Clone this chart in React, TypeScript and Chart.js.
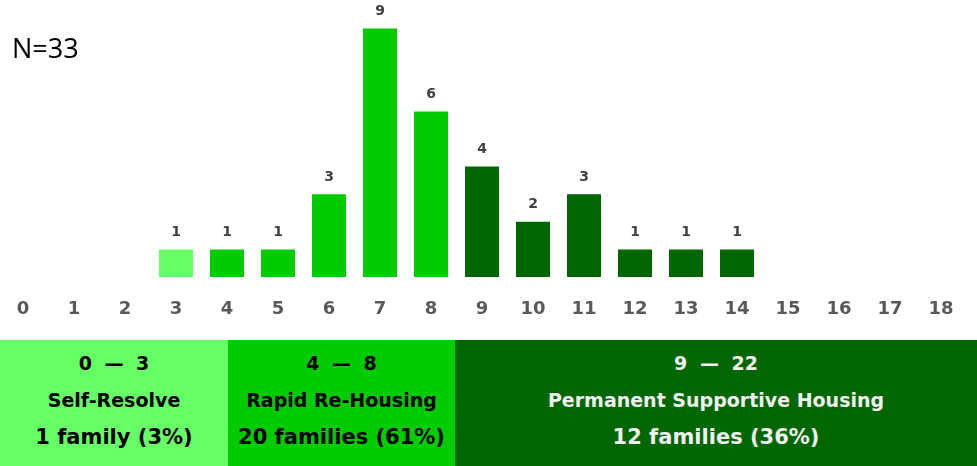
import React, { useEffect, useRef } from "react";
import { Chart, registerables } from "chart.js";

Chart.register(...registerables);

// ---- data ----
const categories = ["0", "1", "2", "3", "4", "5", "6", "7", "8", "9", "10", "11", "12", "13", "14", "15", "16", "17", "18"];
const counts = [0, 0, 0, 1, 1, 1, 3, 9, 6, 4, 2, 3, 1, 1, 1, 0, 0, 0, 0];
const sampleLabel = "N=33";

const groupMax = [3, 8, 22];
const groupRanges = ["0 — 3", "4 — 8", "9 — 22"];
const groupNames = ["Self-Resolve", "Rapid Re-Housing", "Permanent Supportive Housing"];
const groupFamilies = ["1 family (3%)", "20 families (61%)", "12 families (36%)"];
const groupColors = ["#66FF66", "#00CC00", "#006600"];
const groupTextColors = ["#000000", "#000000", "#F2F2F2"];

const FONT = "'DejaVu Sans', Lato, sans-serif";

function colorFor(cat: string): string {
  const v = Number(cat);
  for (let i = 0; i < groupMax.length; i++) if (v <= groupMax[i]) return groupColors[i];
  return groupColors[groupColors.length - 1];
}

const valueLabels = {
  id: "valueLabels",
  afterDatasetsDraw(chart: any) {
    const ctx = chart.ctx;
    const meta = chart.getDatasetMeta(0);
    ctx.save();
    ctx.font = "bold 14px " + FONT;
    ctx.fillStyle = "#404040";
    ctx.textAlign = "center";
    ctx.textBaseline = "middle";
    meta.data.forEach((el: any, i: number) => {
      const v = counts[i];
      if (!v) return;
      ctx.fillText(String(v), el.x, el.y - 17);
    });
    ctx.restore();
  },
};

export default function App() {
  const ref = useRef<HTMLCanvasElement | null>(null);

  useEffect(() => {
    if (!ref.current) return;
    const chart = new Chart(ref.current, {
      type: "bar",
      data: {
        labels: categories,
        datasets: [
          {
            data: counts,
            backgroundColor: categories.map(colorFor),
            borderWidth: 0,
            categoryPercentage: 1,
            barPercentage: 34 / 51,
          },
        ],
      },
      options: {
        animation: false,
        responsive: true,
        maintainAspectRatio: false,
        layout: { padding: { left: 23, right: 36, top: 1, bottom: 0 } },
        plugins: { legend: { display: false }, tooltip: { enabled: false } },
        scales: {
          x: {
            offset: false,
            grid: { display: false, drawTicks: false },
            border: { display: false },
            afterFit: (scale: any) => {
              scale.height = 63;
              scale.paddingLeft = 0;
              scale.paddingRight = 0;
            },
            ticks: {
              padding: 22,
              color: "#595959",
              font: { family: FONT, size: 18, weight: "bold" },
              maxRotation: 0,
              autoSkip: false,
            },
          },
          y: {
            display: false,
            min: 0,
            max: 10,
          },
        },
      },
      plugins: [valueLabels],
    });
    return () => chart.destroy();
  }, []);

  const bandWidths = [228, 227, 522];

  return (
    <div style={{ position: "fixed", left: 0, top: 0, width: 977, height: 466, background: "#fff", overflow: "hidden" }}>
      <div style={{ position: "absolute", left: 0, top: 0, width: 977, height: 340 }}>
        <canvas ref={ref} />
      </div>
      <div
        style={{
          position: "absolute",
          left: 12,
          top: 30,
          fontFamily: "'Open Sans', sans-serif",
          fontSize: 27,
          lineHeight: "36px",
          color: "#000",
        }}
      >
        {sampleLabel}
      </div>
      <div style={{ position: "absolute", left: 0, top: 340, width: 977, height: 126, display: "flex" }}>
        {groupNames.map((name, i) => (
          <div
            key={name}
            style={{
              width: bandWidths[i],
              height: 126,
              background: groupColors[i],
              color: groupTextColors[i],
              fontFamily: FONT,
              fontWeight: 700,
              textAlign: "center",
              position: "relative",
              whiteSpace: "nowrap",
            }}
          >
            <div style={{ position: "absolute", left: 0, right: 0, top: 10, fontSize: 19, lineHeight: "26px", wordSpacing: 6 }}>{groupRanges[i]}</div>
            <div style={{ position: "absolute", left: 0, right: 0, top: 47, fontSize: 19, lineHeight: "26px" }}>{name}</div>
            <div style={{ position: "absolute", left: 0, right: 0, top: 84, fontSize: 21, lineHeight: "26px" }}>{groupFamilies[i]}</div>
          </div>
        ))}
      </div>
    </div>
  );
}
